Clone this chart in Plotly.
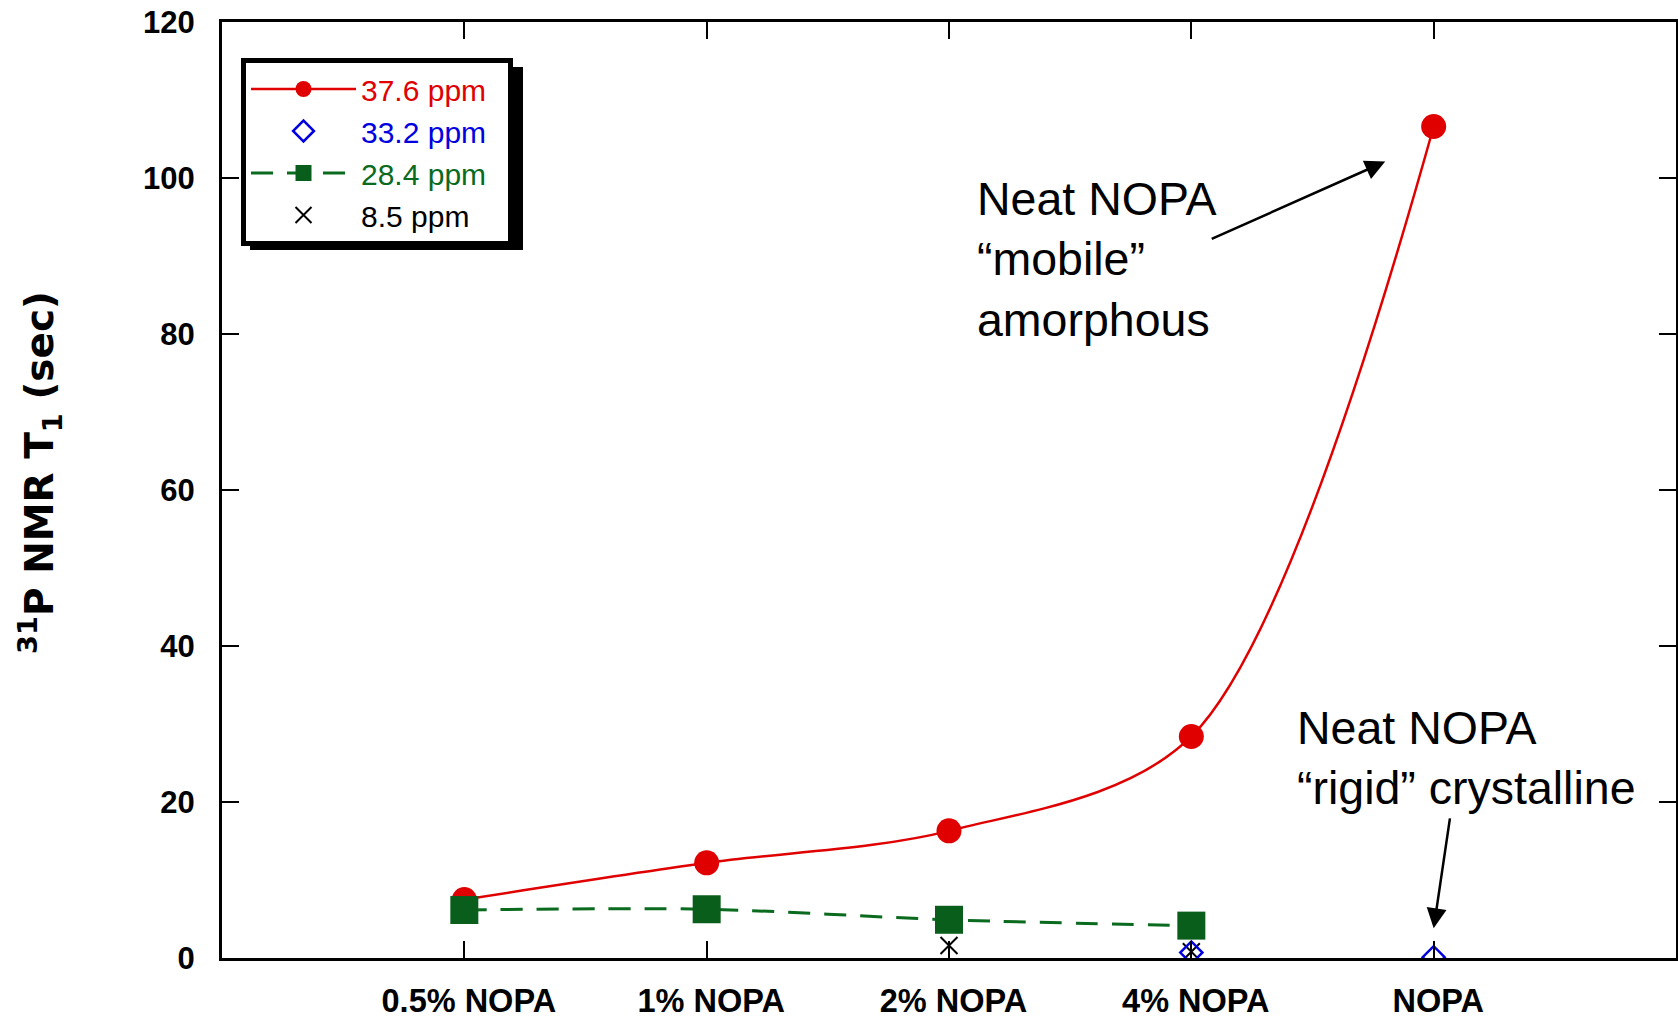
import plotly.graph_objects as go

categories = ["0.5% NOPA", "1% NOPA", "2% NOPA", "4% NOPA", "NOPA"]
cat_pos = [1, 2, 3, 4, 5]

red_x = [1, 2, 3, 4, 5]
red_y = [7.5, 12.2, 16.3, 28.4, 106.6]      # 37.6 ppm

blue_x = [4, 5]
blue_y = [0.7, 0.1]                          # 33.2 ppm

green_x = [1, 2, 3, 4]
green_y = [6.15, 6.25, 4.9, 4.15]            # 28.4 ppm

black_x = [3, 4]
black_y = [1.6, 0.8]                         # 8.5 ppm

y_ticks = [0, 20, 40, 60, 80, 100, 120]

FONT = "Liberation Sans, Arial, sans-serif"
TITLE_FONT = "DejaVu Sans, Liberation Sans, sans-serif"

W, H = 1678, 1019
ML, MR, MT, MB = 222, 2, 22, 61
PW, PH = W - ML - MR, H - MT - MB

def px_x(px):
    return (px - ML) / PW

def px_y(py):
    return (H - MB - py) / PH

fig = go.Figure()

fig.add_trace(go.Scatter(
    x=red_x, y=red_y, mode="lines+markers",
    name="<span style='color:#e00000'>37.6 ppm</span>\u00a0\u00a0",
    line=dict(color="#e00000", width=2.5, shape="spline", smoothing=0.9),
    marker=dict(symbol="circle", size=25, color="#e00000"),
    legendrank=1,
))
fig.add_trace(go.Scatter(
    x=green_x, y=green_y, mode="lines+markers",
    name="<span style='color:#0a6a1e'>28.4 ppm</span>\u00a0\u00a0",
    line=dict(color="#0a6a1e", width=3, dash="22px,14px", shape="spline", smoothing=0.9),
    marker=dict(symbol="square", size=28, color="#0a5e1c"),
    legendrank=3,
))
fig.add_trace(go.Scatter(
    x=black_x, y=black_y, mode="markers",
    name="8.5 ppm\u00a0\u00a0",
    marker=dict(symbol="x-thin-open", size=17, color="black", line=dict(color="black", width=2)),
    legendrank=4,
))
fig.add_trace(go.Scatter(
    x=blue_x, y=blue_y, mode="markers",
    name="<span style='color:#0000e0'>33.2 ppm</span>\u00a0\u00a0",
    marker=dict(symbol="diamond-open", size=17, color="#0000e0", line=dict(color="#0000e0", width=2.5)),
    legendrank=2,
))

fig.update_layout(
    width=W, height=H,
    margin=dict(l=ML, r=MR, t=MT, b=MB, autoexpand=False),
    paper_bgcolor="white", plot_bgcolor="white",
    font=dict(family=FONT, color="black"),
    showlegend=True,
    legend=dict(
        x=px_x(241), y=px_y(58), xanchor="left", yanchor="top",
        bgcolor="white", bordercolor="black", borderwidth=5,
        font=dict(family=FONT, size=30, color="black"),
        itemwidth=105, tracegroupgap=0,
    ),
    xaxis=dict(
        range=[0, 6], tickmode="array", tickvals=cat_pos,
        ticktext=["<b>\u00a0%s</b>" % c for c in categories],
        showgrid=False, zeroline=False, automargin=False,
        showline=True, linecolor="black", linewidth=3, mirror="ticks",
        ticks="inside", ticklen=17, tickwidth=2, tickcolor="black",
        tickfont=dict(family=FONT, size=32.5, color="black"),
        ticklabelstandoff=12, ticklabeloverflow="allow",
    ),
    yaxis=dict(
        range=[0, 120], tickmode="array", tickvals=y_ticks,
        ticktext=["<b>%d</b>" % v for v in y_ticks],
        showgrid=False, zeroline=False, automargin=False,
        showline=True, linecolor="black", linewidth=3, mirror="ticks",
        ticks="inside", ticklen=17, tickwidth=2, tickcolor="black",
        tickfont=dict(family=FONT, size=31, color="black"),
        ticklabelstandoff=18, ticklabeloverflow="allow",
    ),
)

# legend drop shadow (offset black box behind the legend)
fig.add_shape(type="rect", xref="paper", yref="paper",
              x0=px_x(250), x1=px_x(523), y0=px_y(250), y1=px_y(67),
              fillcolor="black", line=dict(width=0), layer="above")

fig.add_annotation(
    text="<b><sup>31</sup>P NMR T<sub>1</sub> (sec)</b>",
    xref="paper", yref="paper", x=px_x(40), y=px_y(473),
    textangle=-90, showarrow=False, xanchor="center", yanchor="middle",
    font=dict(family=TITLE_FONT, size=39, color="black"),
)

fig.add_annotation(
    text="Neat NOPA<br>\u201cmobile\u201d<br>amorphous",
    xref="x", yref="y", x=3.108, y=89.5, xanchor="left", yanchor="middle",
    align="left", showarrow=False,
    font=dict(family=FONT, size=46.5, color="black"),
)
fig.add_annotation(
    x=4.80, y=102.1, ax=4.078, ay=92.1, xref="x", yref="y", axref="x", ayref="y",
    text="", showarrow=True, arrowhead=2, arrowsize=1.6, arrowwidth=2.5, arrowcolor="black",
)
fig.add_annotation(
    text="Neat NOPA<br>\u201crigid\u201d crystalline",
    xref="x", yref="y", x=4.428, y=25.6, xanchor="left", yanchor="middle",
    align="left", showarrow=False,
    font=dict(family=FONT, size=46.5, color="black"),
)
fig.add_annotation(
    x=5.0, y=3.8, ax=5.068, ay=18.1, xref="x", yref="y", axref="x", ayref="y",
    text="", showarrow=True, arrowhead=2, arrowsize=1.6, arrowwidth=2.5, arrowcolor="black",
)

# remove the default 8px page margin so the figure fills the window exactly
fig.write_html(
    "out.html",
    config={"displayModeBar": False},
    post_script="document.body.style.margin='0';document.body.style.overflow='hidden';",
)
